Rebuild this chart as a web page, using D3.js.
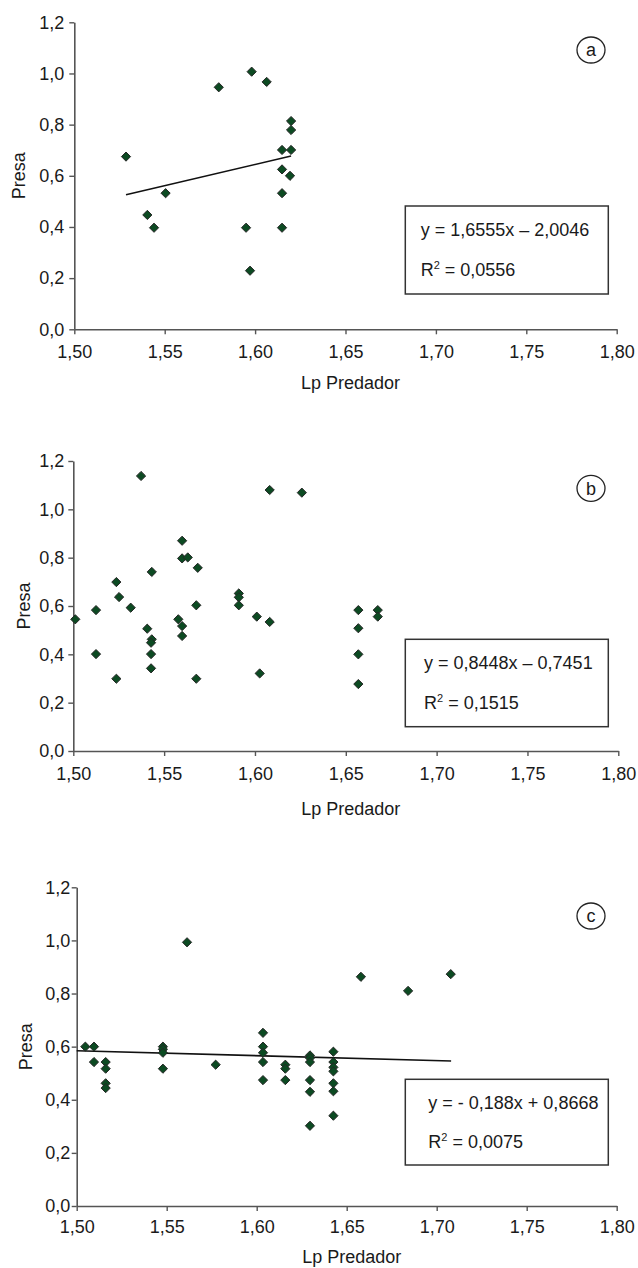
<!DOCTYPE html>
<html>
<head>
<meta charset="utf-8">
<script src="https://cdn.jsdelivr.net/npm/d3@7"></script>
<style>
  html, body { margin: 0; padding: 0; background: #fff; }
  text { font-family: "Liberation Sans", Arial, Helvetica, sans-serif; fill: #1a1a1a; }
</style>
</head>
<body>
<svg id="chart" width="638" height="1268"></svg>
<script>
// ---------------- data ----------------
const xTicks = [1.50, 1.55, 1.60, 1.65, 1.70, 1.75, 1.80];
const yTicks = [0.0, 0.2, 0.4, 0.6, 0.8, 1.0, 1.2];
const xTitle = "Lp Predador";
const yTitle = "Presa";
const panelLetters = ["a", "b", "c"];

const aX = [1.5286, 1.5404, 1.5441, 1.5505, 1.5799, 1.5981, 1.6064, 1.5950, 1.5972,
            1.6149, 1.6149, 1.6149, 1.6149, 1.6199, 1.6199, 1.6199, 1.6193];
const aY = [0.675, 0.447, 0.397, 0.532, 0.946, 1.007, 0.967, 0.397, 0.229,
            0.701, 0.625, 0.532, 0.397, 0.814, 0.779, 0.701, 0.600];

const bX = [1.5011, 1.5125, 1.5125, 1.5237, 1.5252, 1.5237, 1.5316, 1.5373, 1.5407, 1.5432,
            1.5432, 1.5428, 1.5428, 1.5428, 1.5578, 1.5599, 1.5599, 1.5599, 1.5599, 1.5630,
            1.5685, 1.5677, 1.5677, 1.5911, 1.5911, 1.5911, 1.6010, 1.6026, 1.6081, 1.6081,
            1.6258, 1.6569, 1.6569, 1.6569, 1.6569, 1.6676, 1.6676];
const bY = [0.545, 0.583, 0.401, 0.699, 0.637, 0.299, 0.593, 1.138, 0.506, 0.741,
            0.462, 0.448, 0.401, 0.342, 0.545, 0.517, 0.476, 0.870, 0.797, 0.801,
            0.758, 0.603, 0.299, 0.652, 0.636, 0.603, 0.556, 0.321, 1.080, 0.534,
            1.069, 0.583, 0.508, 0.400, 0.277, 0.583, 0.556];

const cX = [1.5048, 1.5096, 1.5096, 1.5161, 1.5161, 1.5161, 1.5161, 1.5479, 1.5479, 1.5479,
            1.5479, 1.5613, 1.5772, 1.6035, 1.6035, 1.6035, 1.6035, 1.6035, 1.6159, 1.6159,
            1.6159, 1.6296, 1.6296, 1.6296, 1.6296, 1.6296, 1.6296, 1.6426, 1.6426, 1.6426,
            1.6426, 1.6426, 1.6426, 1.6426, 1.6579, 1.6841, 1.7078];
const cY = [0.600, 0.600, 0.542, 0.542, 0.517, 0.462, 0.444, 0.600, 0.590, 0.577,
            0.517, 0.993, 0.532, 0.652, 0.600, 0.577, 0.542, 0.474, 0.532, 0.517,
            0.474, 0.567, 0.557, 0.542, 0.474, 0.430, 0.302, 0.581, 0.542, 0.522,
            0.507, 0.462, 0.432, 0.340, 0.863, 0.810, 0.873];

const equations = ["y = 1,6555x \u2013 2,0046", "y = 0,8448x \u2013 0,7451", "y = - 0,188x + 0,8668"];
const r2Values = ["0,0556", "0,1515", "0,0075"];
const slopes = [1.6555, 0.8448, -0.188];
const intercepts = [-2.0046, -0.7451, 0.8668];
const showTrend = [true, false, true];
const aLineX = [d3.min(aX), d3.max(aX)];
const cLineX = [1.50, 1.708];

// ---------------- layout ----------------
const panels = [
  { xs: aX, ys: aY, lineX: aLineX, left: 74.3, right: 616.7, top: 22.3, bottom: 329.3,
    xPad: 11, yPad: 5, titleY: 389, presaX: 18.3, boxTop: 206, boxH: 88,
    eqX: 420.7, eqY: 236, r2Y: 276, circY: 50 },
  { xs: bX, ys: bY, lineX: null, left: 73.3, right: 618.3, top: 461, bottom: 751,
    xPad: 11, yPad: 4, titleY: 815, presaX: 24, boxTop: 639.3, boxH: 87.4,
    eqX: 424, eqY: 669.3, r2Y: 708.7, circY: 488.3 },
  { xs: cX, ys: cY, lineX: cLineX, left: 76.7, right: 616.7, top: 887.3, bottom: 1206,
    xPad: 9, yPad: 1.5, titleY: 1263, presaX: 26, boxTop: 1079.3, boxH: 85.7,
    eqX: 428.3, eqY: 1109.3, r2Y: 1148.3, circY: 916 }
];

const locale = d3.formatLocale({ decimal: ",", thousands: ".", grouping: [3], currency: ["", ""] });
const fx = locale.format(".2f");
const fy = locale.format(".1f");

const diamond = {
  draw(ctx, size) {
    const r = Math.sqrt(size / 2);
    ctx.moveTo(0, -r); ctx.lineTo(r, 0); ctx.lineTo(0, r); ctx.lineTo(-r, 0); ctx.closePath();
  }
};
const sym = d3.symbol().type(diamond).size(2 * 4.6 * 4.6);

const svg = d3.select("#chart");
const axisColor = "#555";

panels.forEach((p, i) => {
  const x = d3.scaleLinear().domain([1.5, 1.8]).range([p.left, p.right]);
  const y = d3.scaleLinear().domain([0, 1.2]).range([p.bottom, p.top]);
  const g = svg.append("g");

  // axes
  const gx = g.append("g").attr("transform", `translate(0,${p.bottom})`)
    .call(d3.axisBottom(x).tickValues(xTicks).tickFormat(fx).tickSize(5).tickSizeOuter(0).tickPadding(p.xPad));
  const gy = g.append("g").attr("transform", `translate(${p.left},0)`)
    .call(d3.axisLeft(y).tickValues(yTicks).tickFormat(fy).tickSize(5).tickSizeOuter(0).tickPadding(p.yPad));
  [gx, gy].forEach(a => {
    a.selectAll("path.domain").attr("stroke", axisColor).attr("stroke-width", 1.6);
    a.selectAll(".tick line").attr("stroke", axisColor).attr("stroke-width", 1.4);
    a.selectAll(".tick text").attr("font-size", 18).attr("fill", "#1a1a1a")
      .style("font-family", '"Liberation Sans", Arial, sans-serif');
  });

  // titles
  g.append("text").attr("x", (p.left + p.right) / 2 + 5).attr("y", p.titleY)
    .attr("text-anchor", "middle").attr("font-size", 18).text(xTitle);
  g.append("text")
    .attr("transform", `translate(${p.presaX},${(p.top + p.bottom) / 2}) rotate(-90)`)
    .attr("text-anchor", "middle").attr("dy", "0.35em").attr("font-size", 18).text(yTitle);

  // trend line
  if (showTrend[i] && p.lineX) {
    const pts = p.lineX.map(v => [v, slopes[i] * v + intercepts[i]]);
    g.append("path")
      .attr("d", d3.line().x(d => x(d[0])).y(d => y(d[1]))(pts))
      .attr("stroke", "#111").attr("stroke-width", 1.6).attr("fill", "none");
  }

  // points
  g.selectAll("path.pt").data(p.xs.map((v, k) => [v, p.ys[k]])).join("path")
    .attr("class", "pt")
    .attr("transform", d => `translate(${x(d[0])},${y(d[1])})`)
    .attr("d", sym)
    .attr("fill", "#0c4a22").attr("stroke", "#262626").attr("stroke-width", 1);

  // equation box
  g.append("rect").attr("x", 405.3).attr("y", p.boxTop).attr("width", 203).attr("height", p.boxH)
    .attr("fill", "#fff").attr("stroke", "#333").attr("stroke-width", 1.5);
  g.append("text").attr("x", p.eqX).attr("y", p.eqY).attr("font-size", 18).text(equations[i]);
  const r2 = g.append("text").attr("x", p.eqX).attr("y", p.r2Y).attr("font-size", 18);
  r2.append("tspan").text("R");
  r2.append("tspan").attr("font-size", 11).attr("dy", -7).text("2");
  r2.append("tspan").attr("dy", 7).text(" = " + r2Values[i]);

  // panel letter
  g.append("ellipse").attr("cx", 591).attr("cy", p.circY).attr("rx", 14).attr("ry", 13)
    .attr("fill", "none").attr("stroke", "#222").attr("stroke-width", 1.3);
  g.append("text").attr("x", 591).attr("y", p.circY).attr("dy", "0.35em")
    .attr("text-anchor", "middle").attr("font-size", 18).text(panelLetters[i]);
});
</script>
</body>
</html>
